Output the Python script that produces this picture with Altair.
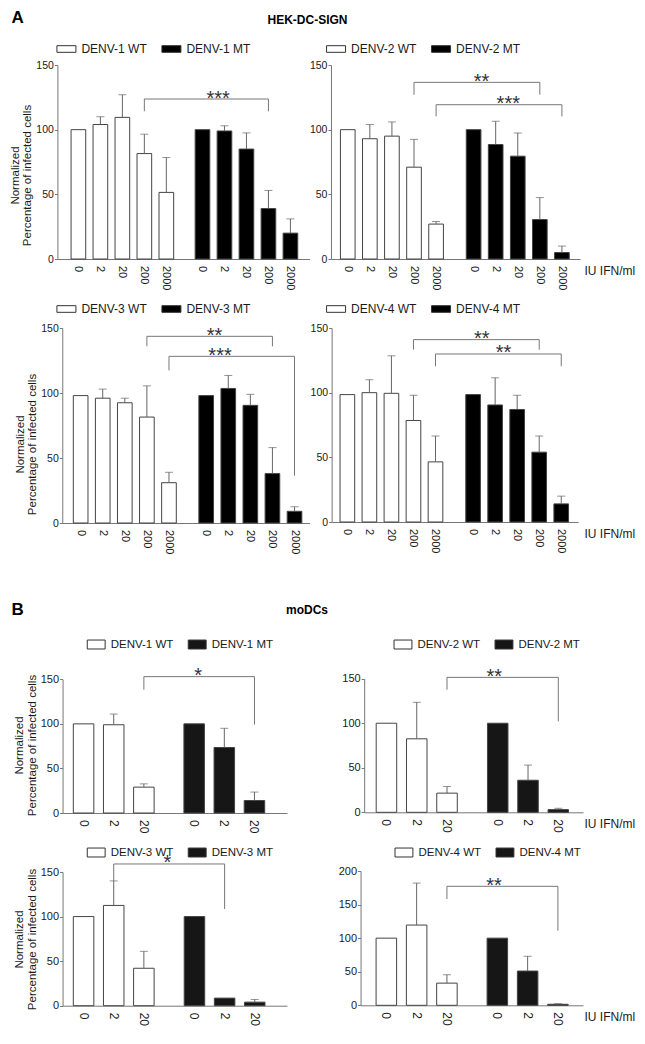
import altair as alt
import pandas as pd

FONT = "Liberation Sans"

# ---------------------------------------------------------------- data
DOSES_A = ["0", "2", "20", "200", "2000"]
DOSES_B = ["0", "2", "20"]

# Section A (HEK-DC-SIGN): normalized percentage of infected cells (mean, SD)
A1_WT = [100, 104, 109.5, 81.5, 51.5]
A1_WT_SD = [0, 6, 17.5, 15, 27]
A1_MT = [100, 99, 85, 39, 20]
A1_MT_SD = [0, 4, 12.5, 14, 11]
A2_WT = [100, 93, 95, 71, 27]
A2_WT_SD = [0, 11, 11, 21.5, 2]
A2_MT = [100, 88.5, 79.5, 30.5, 5]
A2_MT_SD = [0, 18, 18, 17, 5]
A3_WT = [98, 96, 92.5, 81.5, 31]
A3_WT_SD = [0, 7, 3.5, 24, 8]
A3_MT = [98, 103.5, 90.5, 38, 9]
A3_MT_SD = [0, 10, 8.5, 20, 3.5]
A4_WT = [98.5, 100, 99.5, 78.5, 46.5]
A4_WT_SD = [0, 10, 29, 19.5, 20]
A4_MT = [98.5, 90.5, 87, 54, 14]
A4_MT_SD = [0, 21, 11, 12.5, 6]

# Section B (moDCs)
B1_WT = [100, 99, 29]
B1_WT_SD = [0, 12, 3.7]
B1_MT = [100, 73.5, 14]
B1_MT_SD = [0, 21.5, 9.5]
B2_WT = [100, 82.5, 21.5]
B2_WT_SD = [0, 41, 7.5]
B2_MT = [100, 36, 3]
B2_MT_SD = [0, 17, 1.5]
B3_WT = [100, 112.5, 42]
B3_WT_SD = [0, 27.5, 19]
B3_MT = [100, 8.5, 4]
B3_MT_SD = [0, 0, 3]
B4_WT = [100, 119.5, 33]
B4_WT_SD = [0, 62.5, 12.5]
B4_MT = [100, 51, 1.5]
B4_MT_SD = [0, 22, 1]

# significance brackets: (dose compared, bracket level, WT leg end, MT leg end, stars)
A1_SIG = [("200", 123.7, 114.2, 114.2, "***")]
A2_SIG = [("200", 136.6, 127, 127, "**"), ("2000", 119.3, 110.3, 110.3, "***")]
A3_SIG = [("200", 143.6, 135.9, 135.9, "**"), ("2000", 128.2, 117.4, 36.4, "***")]
A4_SIG = [("200", 141, 133.2, 133.2, "**"), ("2000", 129.9, 120.4, 120.4, "**")]
B1_SIG = [("20", 153, 138.4, 99.1, "*")]
B2_SIG = [("20", 151.5, 137.6, 102.1, "**")]
B3_SIG = [("2", 159, 139.6, 108.5, "*")]
B4_SIG = [("20", 177.2, 158.3, 111.1, "**")]

Y_TICKS_150 = [0, 50, 100, 150]
Y_TICKS_200 = [0, 50, 100, 150, 200]

Y_TITLE = ["Normalized", "Percentage of infected cells"]
X_UNIT = "IU IFN/ml"

# ---------------------------------------------------------------- layout
W, H = 629, 1020
SX = 0.977


def cx(r):
    return 2.5 + (r - 4.0) * SX


def cy(r, sec):
    return r - 5.0 if sec == "A" else r - 25.0


LAYOUT = {
    "A1": dict(sec="A", ax=52, ax_end=310, y0=256, ytop=62, c0=73.5, s=22.5, g=127, bw=15,
               leg_x=51, leg_y=44, title_y=172, left=True, star=[12]),
    "A2": dict(sec="A", ax=332, ax_end=587, y0=256, ytop=62, c0=349.2, s=22.6, g=128.8, bw=15,
               leg_x=327, leg_y=44, left=False, star=[4.7, 9.5]),
    "A3": dict(sec="A", ax=57, ax_end=310, y0=520, ytop=325, c0=75.8, s=22.6, g=128.5, bw=15,
               leg_x=51, leg_y=304, title_y=441, left=True, star=[5, -12]),
    "A4": dict(sec="A", ax=332.7, ax_end=585, y0=519, ytop=325, c0=348.8, s=22.55, g=128.7, bw=15,
               leg_x=327, leg_y=304, left=False, star=[5.5, 5.3]),
    "B1": dict(sec="B", ax=57.3, ax_end=287, y0=830, ytop=696.3, c0=78.8, s=30.85, g=113.2, bw=21,
               leg_x=82, leg_y=660, title_y=762, left=True, star=[-1]),
    "B2": dict(sec="B", ax=366, ax_end=590, y0=829.3, ytop=695.7, c0=388.8, s=31, g=113.9, bw=21,
               leg_x=396, leg_y=660, left=False, star=[-8.7]),
    "B3": dict(sec="B", ax=57.3, ax_end=287, y0=1022.7, ytop=889, c0=78.8, s=30.85, g=113.5, bw=21,
               leg_x=82, leg_y=868, title_y=956, left=True, star=[-1.7]),
    "B4": dict(sec="B", ax=362.3, ax_end=590, y0=1022.3, ytop=888, c0=388.7, s=31, g=113.6, bw=21,
               leg_x=397, leg_y=868, left=False, star=[-8.7]),
}

TXT = "#1a1a1a"
AXC = "#777777"
ERR = "#666666"
SYM_A = "M-1,-0.35H1V0.35H-1Z"
SYM_B = "M-1,-0.5H1V0.5H-1Z"


def panel(key, sero, doses, wt, wt_sd, mt, mt_sd, sig, ymax, yticks):
    L = LAYOUT[key]
    sec = L["sec"]
    n = len(doses)
    wt_lab, mt_lab = f"{sero} WT", f"{sero} MT"
    rows = []
    for grp, lab, means, sds in (("WT", wt_lab, wt, wt_sd), ("MT", mt_lab, mt, mt_sd)):
        for d, m, sd in zip(doses, means, sds):
            rows.append(dict(group=grp, strain=lab, dose=d, value=m, sd=sd, upper=m + sd))
    df = pd.DataFrame(rows)

    x0, x1 = cx(L["ax"]), cx(L["ax_end"])
    s, g = L["s"] * SX, L["g"] * SX
    band_start = cx(L["c0"] - L["s"] / 2)
    total_outer = (x1 - x0) - (g + n * s)
    pin = (g - n * s) / g
    pout = total_outer / (2 * g)
    align = (band_start - x0) / total_outer
    p = 1 - L["bw"] / L["s"]
    Y0 = cy(L["y0"], sec)
    YT = cy(L["ytop"], sec)

    common_y = dict(orient="left", offset=-x0, values=yticks, tickSize=3, tickColor=AXC,
                    domainColor=AXC, grid=False, labelFontSize=10.5 if sec == "A" else 11,
                    labelColor=TXT, labelPadding=1)
    if L["left"]:
        xaxis = alt.Axis(orient="bottom", offset=Y0 - H, labels=False, ticks=False, domain=True,
                         domainColor=AXC, grid=False, title=None)
        yaxis = alt.Axis(**common_y, title=Y_TITLE, titleFontSize=11.5, titleLineHeight=12.5,
                         titleFontWeight="normal", titleColor=TXT, titlePadding=3,
                         titleY=cy(L["title_y"], sec))
    else:
        xaxis = alt.Axis(orient="bottom", offset=Y0 - H, labels=False, ticks=False, domain=True,
                         domainColor=AXC, grid=False, title=X_UNIT, titleX=cx(591), titleY=11,
                         titleAlign="left", titleBaseline="middle", titleAngle=0,
                         titleFontSize=12, titleFontWeight="normal", titleColor=TXT)
        yaxis = alt.Axis(**common_y, title=None)

    xenc = alt.X("group:N", scale=alt.Scale(domain=["WT", "MT"], range=[x0, x1], paddingInner=pin,
                                            paddingOuter=pout, align=align), axis=xaxis)
    xo = alt.XOffset("dose:N", scale=alt.Scale(domain=doses, paddingInner=p, paddingOuter=p / 2))
    yscale = alt.Scale(domain=[0, ymax], range=[Y0, YT], nice=False, zero=True)

    def Yf(field):
        return alt.Y(field, scale=yscale, axis=yaxis)

    legend = alt.Legend(orient="none", legendX=cx(L["leg_x"]), legendY=cy(L["leg_y"], sec) - 8,
                        direction="horizontal", title=None,
                        symbolType=SYM_A if sec == "A" else SYM_B,
                        symbolSize=361 if sec == "A" else 320,
                        symbolStrokeColor="#333", symbolStrokeWidth=1, symbolOpacity=1,
                        labelFontSize=12 if sec == "A" else 11.5, labelColor=TXT, labelOffset=5,
                        columnPadding=12, padding=0,
                        labelExpr="indexof(datum.label, 'MT') >= 0 ? '\u00a0' + datum.label : datum.label")
    dark = "#000000" if sec == "A" else "#161616"
    fill = alt.Fill("strain:N", scale=alt.Scale(domain=[wt_lab, mt_lab], range=["#ffffff", dark]),
                    legend=legend)

    bars = alt.Chart(df).mark_bar(stroke="#444444", strokeWidth=1).encode(
        x=xenc, xOffset=xo, y=Yf("value:Q"), fill=fill)

    edf = df[df["sd"] > 0]
    err = alt.Chart(edf).mark_rule(color=ERR, strokeWidth=1).encode(
        x=xenc, xOffset=xo, y=Yf("value:Q"), y2="upper:Q")
    cap = alt.Chart(edf).mark_tick(color=ERR, thickness=1, size=8).encode(
        x=xenc, xOffset=xo, y=Yf("upper:Q"))

    labels = alt.Chart(df).mark_text(angle=90, align="left", baseline="middle",
                                     fontSize=11 if sec == "A" else 12, color=TXT).encode(
        x=xenc, xOffset=xo, y=alt.value(Y0 + 7), text="dose:N")

    brows = []
    for i, (d, lvl, lw, lm, _) in enumerate(sig):
        brows += [dict(id=i, k=0, group="WT", dose=d, yv=lw),
                  dict(id=i, k=1, group="WT", dose=d, yv=lvl),
                  dict(id=i, k=2, group="MT", dose=d, yv=lvl),
                  dict(id=i, k=3, group="MT", dose=d, yv=lm)]
    brk = alt.Chart(pd.DataFrame(brows)).mark_line(color="#777777", strokeWidth=1).encode(
        x=xenc, xOffset=xo, y=Yf("yv:Q"), detail="id:N", order="k:Q")

    layers = [bars, err, cap, labels, brk]
    for i, (d, lvl, lw, lm, stars) in enumerate(sig):
        sdf = pd.DataFrame([dict(group="WT", dose=d, yv=lvl, stars=stars)])
        layers.append(alt.Chart(sdf).mark_text(fontSize=20, color="#333333", align="center",
                                               baseline="alphabetic", dy=5.5,
                                               dx=g / 2 + L["star"][i] * SX).encode(
            x=xenc, xOffset=xo, y=Yf("yv:Q"), text="stars:N"))
    return alt.layer(*layers)


def note(text, x, y, size, align="left", baseline="middle"):
    return alt.Chart(pd.DataFrame({"t": [text]})).mark_text(
        fontSize=size, fontWeight="bold", align=align, baseline=baseline, color="#000000").encode(
        text="t:N", x=alt.value(x), y=alt.value(y))


panels = [
    panel("A1", "DENV-1", DOSES_A, A1_WT, A1_WT_SD, A1_MT, A1_MT_SD, A1_SIG, 150, Y_TICKS_150),
    panel("A2", "DENV-2", DOSES_A, A2_WT, A2_WT_SD, A2_MT, A2_MT_SD, A2_SIG, 150, Y_TICKS_150),
    panel("A3", "DENV-3", DOSES_A, A3_WT, A3_WT_SD, A3_MT, A3_MT_SD, A3_SIG, 150, Y_TICKS_150),
    panel("A4", "DENV-4", DOSES_A, A4_WT, A4_WT_SD, A4_MT, A4_MT_SD, A4_SIG, 150, Y_TICKS_150),
    panel("B1", "DENV-1", DOSES_B, B1_WT, B1_WT_SD, B1_MT, B1_MT_SD, B1_SIG, 150, Y_TICKS_150),
    panel("B2", "DENV-2", DOSES_B, B2_WT, B2_WT_SD, B2_MT, B2_MT_SD, B2_SIG, 150, Y_TICKS_150),
    panel("B3", "DENV-3", DOSES_B, B3_WT, B3_WT_SD, B3_MT, B3_MT_SD, B3_SIG, 150, Y_TICKS_150),
    panel("B4", "DENV-4", DOSES_B, B4_WT, B4_WT_SD, B4_MT, B4_MT_SD, B4_SIG, 200, Y_TICKS_200),
]

notes = [
    note("A", cx(5), 2, 17, baseline="top"),
    note("HEK-DC-SIGN", cx(308), cy(17, "A"), 12, "center"),
    note("B", cx(5), cy(627, "B"), 17),
    note("moDCs", cx(307.5), cy(627, "B"), 12, "center"),
]

chart = alt.layer(*panels, *notes).properties(
    width=W, height=H, padding=0, autosize=alt.AutoSizeParams(type="none")
).resolve_scale(
    x="independent", y="independent", xOffset="independent", fill="independent"
).resolve_axis(x="independent", y="independent").resolve_legend(fill="independent").configure(
    font=FONT
).configure_view(stroke=None)

chart.save("out.html", embed_options={"renderer": "svg", "actions": False})
